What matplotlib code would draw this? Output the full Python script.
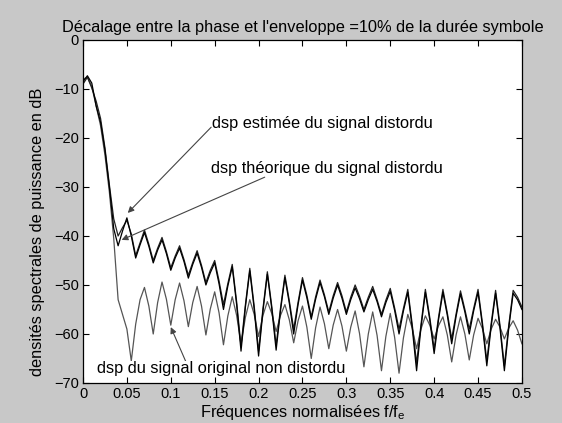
import numpy as np
import matplotlib
matplotlib.use("Agg")
from matplotlib import pyplot as plt

plt.rcParams['font.family'] = ['Liberation Sans', 'DejaVu Sans']
plt.rcParams['mathtext.fontset'] = 'custom'
plt.rcParams['mathtext.rm'] = 'Liberation Sans'

# frequency grid (normalised), step 0.005
freq = np.linspace(0, 0.5, 101)

# dsp estimee du signal distordu (dB)
dsp_est = [-8.5, -7.3, -8.8, -13.5, -16.8, -22.5, -30.0, -38.5, -42.0, -39.0,
           -36.3, -40.0, -44.5, -41.8, -39.3, -42.1, -45.5, -42.9, -40.8, -43.6,
           -47.0, -44.5, -42.5, -45.2, -48.6, -45.8, -43.5, -46.4, -50.0, -47.5,
           -45.5, -49.8, -55.0, -50.2, -46.3, -54.0, -63.5, -54.5, -47.1, -54.9,
           -64.5, -55.3, -47.8, -54.8, -63.3, -55.2, -48.5, -53.7, -60.0, -54.0,
           -49.0, -52.6, -57.0, -52.9, -49.5, -52.4, -56.0, -52.7, -50.0, -52.7,
           -56.0, -53.0, -50.6, -52.8, -55.5, -53.0, -50.9, -53.4, -56.5, -53.6,
           -51.3, -55.2, -60.0, -55.3, -51.5, -58.7, -67.5, -58.7, -51.5, -57.1,
           -64.0, -57.1, -51.5, -56.2, -62.0, -56.4, -51.8, -55.5, -60.0, -55.3,
           -51.5, -58.3, -66.5, -58.4, -51.7, -58.8, -67.5, -58.8, -51.7, -53.0,
           -55.0]

# dsp theorique du signal distordu (dB)
dsp_theo = [-9.0, -7.6, -9.8, -12.5, -16.0, -22.0, -29.5, -36.5, -40.0, -38.3,
            -36.8, -39.6, -44.0, -41.4, -38.8, -41.7, -45.0, -42.5, -40.3, -43.2,
            -46.5, -44.1, -42.0, -44.8, -48.0, -45.4, -43.0, -46.0, -49.5, -47.0,
            -45.0, -49.2, -54.0, -49.7, -45.8, -53.4, -62.5, -54.0, -46.6, -54.3,
            -63.5, -54.8, -47.3, -54.3, -62.3, -54.7, -48.0, -53.2, -59.0, -53.5,
            -48.5, -52.1, -56.5, -52.4, -49.0, -52.0, -55.5, -52.2, -49.5, -52.2,
            -55.5, -52.5, -50.0, -52.3, -55.0, -52.5, -50.3, -53.0, -56.0, -53.1,
            -50.7, -54.7, -59.0, -54.8, -50.9, -58.0, -66.0, -58.1, -50.9, -56.6,
            -63.0, -56.6, -50.9, -55.7, -61.0, -55.9, -51.2, -55.0, -59.0, -54.8,
            -50.9, -57.7, -65.5, -57.8, -51.1, -58.2, -66.5, -58.2, -51.1, -52.5,
            -54.5]

# dsp du signal original non distordu (dB)
dsp_orig = [-8.0, -7.6, -9.5, -13.5, -17.5, -23.5, -31.0, -40.5, -53.0, -56.0,
            -59.0, -65.5, -58.0, -53.0, -50.5, -54.3, -60.0, -53.6, -49.4, -52.9,
            -58.2, -53.0, -49.6, -53.2, -58.5, -53.6, -50.3, -54.3, -60.2, -54.9,
            -51.4, -55.7, -62.2, -56.3, -52.4, -56.2, -62.0, -56.6, -53.0, -56.0,
            -60.5, -56.2, -53.4, -55.8, -59.5, -56.2, -54.0, -57.1, -61.8, -57.3,
            -54.3, -58.6, -65.0, -58.7, -54.5, -57.9, -63.0, -58.2, -55.0, -58.4,
            -63.5, -58.6, -55.3, -59.9, -66.7, -60.0, -55.5, -60.3, -67.5, -60.5,
            -55.8, -60.7, -68.0, -60.8, -56.0, -58.8, -63.0, -59.0, -56.3, -58.2,
            -61.0, -58.3, -56.5, -60.2, -65.7, -60.2, -56.5, -60.0, -65.3, -60.2,
            -56.8, -58.9, -62.0, -59.0, -57.0, -58.6, -61.0, -58.8, -57.3, -59.2,
            -62.0]

xticks = [0, 0.05, 0.1, 0.15, 0.2, 0.25, 0.3, 0.35, 0.4, 0.45, 0.5]
xticklabels = ['0', '0.05', '0.1', '0.15', '0.2', '0.25', '0.3', '0.35', '0.4', '0.45', '0.5']
yticks = [0, -10, -20, -30, -40, -50, -60, -70]

bg = '#c8c8c8'
fs = 11.8
fig = plt.figure(figsize=(5.62, 4.23), dpi=100, facecolor=bg)
ax = fig.add_axes([0.1477, 0.0946, 0.781, 0.8109])

ax.plot(freq, dsp_orig, color='#555555', lw=0.9)
ax.plot(freq, dsp_theo, color='#222222', lw=0.9)
ax.plot(freq, dsp_est, color='black', lw=0.9)

ax.set_xlim(0, 0.5)
ax.set_ylim(-70, 0)
ax.set_xticks(xticks)
ax.set_xticklabels(xticklabels)
ax.set_yticks(yticks)
ax.tick_params(direction='in', length=4, width=0.8, top=True, right=True,
               labelsize=10.5, colors='black', pad=3)
for s in ax.spines.values():
    s.set_linewidth(0.9)

ax.set_title("Décalage entre la phase et l'enveloppe =10% de la durée symbole",
             fontsize=fs, pad=6)
ax.set_xlabel(r'Fréquences normalisées f/f$_{\mathrm{e}}$', fontsize=fs, labelpad=1)
ax.set_ylabel('densités spectrales de puissance en dB', fontsize=fs)
ax.yaxis.set_label_coords(-0.087, 0.44)

arrow = dict(arrowstyle='-|>', color='#444444', lw=0.8, mutation_scale=9,
             shrinkA=0, shrinkB=0)
ax.annotate('', xy=(0.051, -35.3), xytext=(0.146, -17.8), arrowprops=arrow)
ax.text(0.147, -17.1, 'dsp estimée du signal distordu', fontsize=fs, va='center', ha='left')
ax.annotate('', xy=(0.044, -40.8), xytext=(0.207, -28.0), arrowprops=arrow)
ax.text(0.146, -26.3, 'dsp théorique du signal distordu', fontsize=fs, va='center', ha='left')
ax.annotate('', xy=(0.1, -58.6), xytext=(0.118, -66.0), arrowprops=arrow)
ax.text(0.016, -67.0, 'dsp du signal original non distordu', fontsize=fs, va='center', ha='left',
        bbox=dict(facecolor='white', edgecolor='none', pad=0))

fig.savefig('out.png', dpi=100, facecolor=bg)
